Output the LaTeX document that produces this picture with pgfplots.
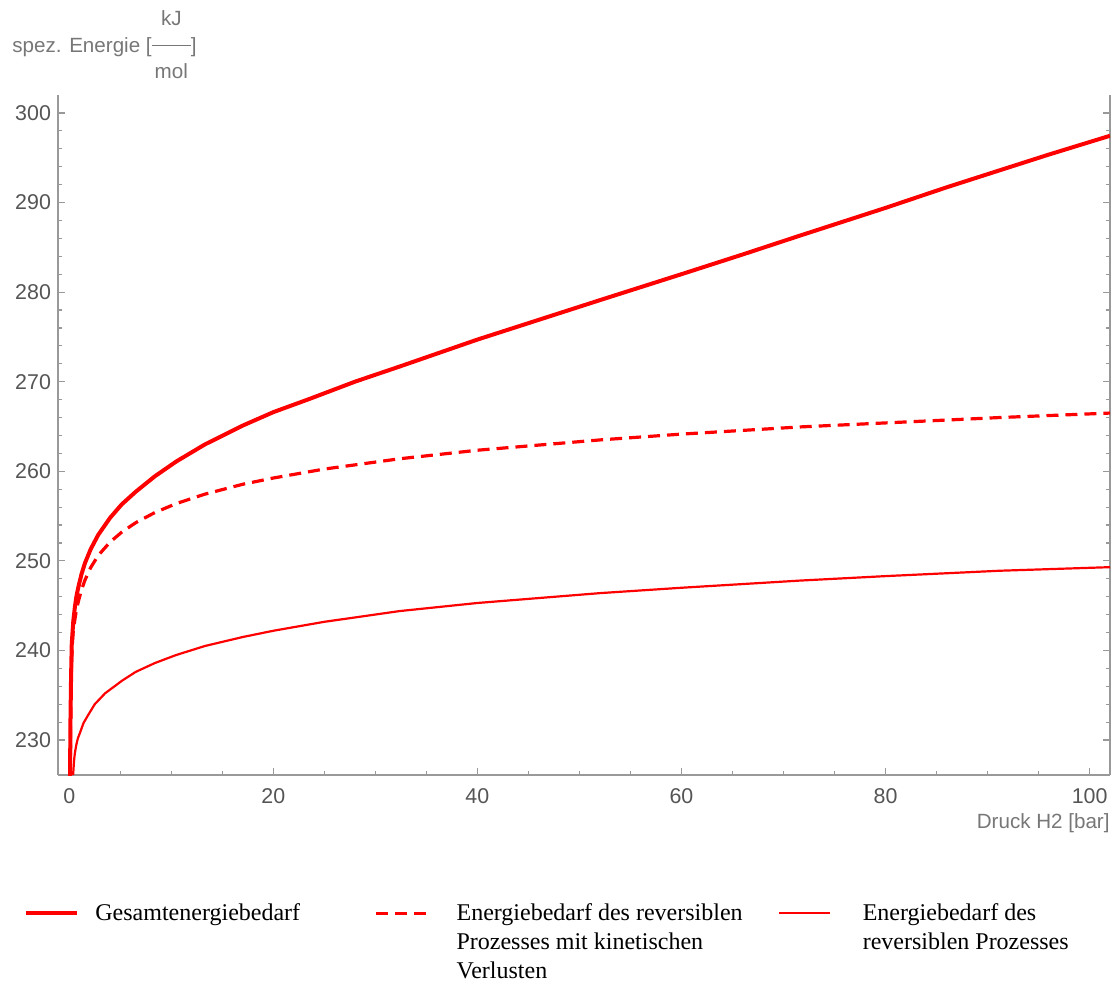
\documentclass[border=0pt]{standalone}
\usepackage{fontspec}
\setmainfont{Liberation Sans}
\newfontfamily\legendfont{Liberation Serif}
\usepackage{pgfplots}
\pgfplotsset{compat=1.18}
\definecolor{axgray}{HTML}{999999}
\definecolor{tickgray}{HTML}{555555}
\definecolor{labgray}{HTML}{777777}
\begin{document}
\begin{tikzpicture}
\begin{axis}[
  scale only axis, width=526pt, height=340pt,
  xmin=-1.1, xmax=102, ymin=226.1, ymax=302,
  axis x line*=bottom, axis y line*=box,
  axis line style={-, draw=axgray, line width=0.8pt},
  every tick/.style={draw=axgray, line width=0.6pt},
  tick align=inside,
  major tick length=3.5pt, minor tick length=2.2pt,
  xtick={0,20,40,60,80,100}, minor x tick num=3,
  ytick={230,240,250,260,270,280,290,300}, minor y tick num=4,
  ytick pos=both, yticklabel pos=left, xtick pos=bottom,
  ticklabel style={font=\fontsize{10.7}{12}\selectfont, text=tickgray},
  xticklabel style={yshift=-3pt},
  /pgf/number format/assume math mode=true,
  xlabel={Druck H2 [bar]},
  every axis x label/.style={at={(rel axis cs:1,0)}, anchor=north east, inner sep=0pt, yshift=-19pt, font=\fontsize{10.3}{12}\selectfont, text=labgray},
  ylabel={spez. Energie [\begin{tabular}[c]{@{\hspace{1.5pt}}c@{\hspace{1.5pt}}}kJ\\[6pt]\hline\rule{0pt}{16.5pt}mol\end{tabular}]},
  every axis y label/.style={at={(rel axis cs:0,1)}, anchor=base west, inner sep=0pt, xshift=-23pt, yshift=21.5pt, font=\fontsize{10.3}{12}\selectfont, text=labgray},
  legend columns=3,
  legend cell align=left,
  legend image code/.code={\draw[#1] (0pt,0pt) -- (25.5pt,0pt);},
  legend style={at={(rel axis cs:0,0)}, anchor=north west, xshift=-17pt, yshift=-62pt,
    draw=none, fill=none, inner sep=0pt,
    font=\legendfont\fontsize{12}{14.5}\selectfont,
    /tikz/every odd column/.append style={column sep=6pt},
    /tikz/every even column/.append style={column sep=0pt}},
]
\addplot[red, line width=2pt] coordinates {
(0.08,226) (0.12,232) (0.18,237) (0.25,240.8) (0.4,243.3) (0.56,244.9) (0.7,246.0) (0.88,247.0) (1.2,248.5) (1.54,249.75) (2.1,251.3) (2.84,252.9) (4.0,254.8) (5.14,256.3) (6.5,257.7) (8.4,259.45) (10.5,261.1) (13.3,263.0) (17,265.1) (20,266.6) (23.6,268.1) (28,270.0) (32.4,271.7) (40,274.7) (46,276.9) (52,279.1) (60,282.0) (66,284.2) (71.6,286.3) (80,289.4) (86,291.7) (91.2,293.6) (96,295.35) (102,297.45)
};
\addlegendentry{\parbox[t]{137.5pt}{Gesamtenergiebedarf}}
\addplot[red, line width=1.6pt, dash pattern=on 6pt off 3.5pt] coordinates {
(0.1,226) (0.14,232) (0.2,237) (0.28,240.4) (0.4,242.2) (0.56,243.5) (0.7,244.5) (0.88,245.4) (1.2,246.75) (1.54,247.85) (2.1,249.25) (2.84,250.6) (4.0,252.1) (5.14,253.2) (6.5,254.25) (8.4,255.4) (10.5,256.4) (13.3,257.45) (17,258.55) (20,259.25) (25,260.25) (32.4,261.4) (40,262.35) (52,263.5) (60,264.15) (71.6,264.95) (80,265.4) (91.2,266.0) (102,266.5)
};
\addlegendentry{\hspace{6pt}\parbox[t]{158.5pt}{Energiebedarf des reversiblen\\Prozesses mit kinetischen\\Verlusten}}
\addplot[red, line width=1.1pt] coordinates {
(0.38,226.1) (0.45,227.3) (0.5,228.0) (0.56,228.6) (0.7,229.5) (0.85,230.2) (1.05,230.8) (1.4,231.9) (1.86,232.8) (2.5,234.0) (3.5,235.2) (5.14,236.6) (6.5,237.6) (8.4,238.6) (10.5,239.5) (13.3,240.5) (17,241.5) (20,242.2) (25,243.2) (32.4,244.4) (40,245.3) (52,246.4) (60,247.0) (71.6,247.8) (80,248.3) (91.2,248.9) (102,249.3)
};
\addlegendentry{\hspace{8pt}\parbox[t]{118pt}{Energiebedarf des\\reversiblen Prozesses}}
\coordinate (LL) at (rel axis cs:0,0);
\end{axis}
\pgfresetboundingbox
\path[use as bounding box] (LL) ++(-29pt,-103pt) rectangle ++(559.5pt,490.5pt);
\end{tikzpicture}
\end{document}
